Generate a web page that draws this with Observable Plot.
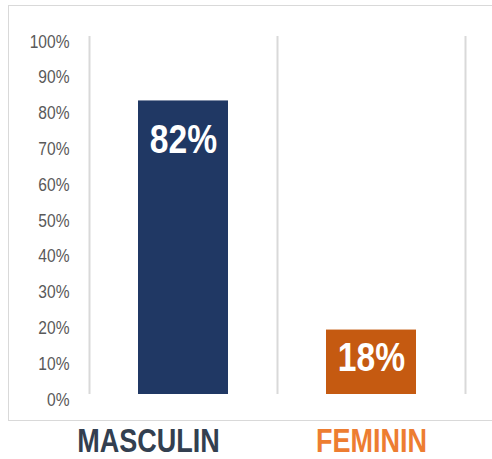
<!DOCTYPE html>
<html>
<head>
<meta charset="utf-8">
<script src="https://cdn.jsdelivr.net/npm/d3@7"></script>
<script src="https://cdn.jsdelivr.net/npm/@observablehq/plot@0.6"></script>
<style>
  html, body { margin: 0; padding: 0; background: #fff; }
  #wrap { position: relative; width: 492px; height: 459px; overflow: hidden; }
  #border { position: absolute; left: 8px; top: 5px; width: 500px; height: 416px; border: 1.5px solid #d9d9d9; box-sizing: border-box; }
  #chart { position: absolute; left: 0; top: 0; }
</style>
</head>
<body>
<div id="wrap"><div id="border"></div><div id="chart"></div></div>
<script>
const categories = ["MASCULIN", "FEMININ"];
const values = [0.82, 0.18];
const valueLabels = ["82%", "18%"];
const yTicks = [0, 0.1, 0.2, 0.3, 0.4, 0.5, 0.6, 0.7, 0.8, 0.9, 1.0];
const barColors = ["#203864", "#c55a11"];
const labelColors = ["#333f50", "#ed7d31"];

const data = categories.map((c, i) => ({cat: c, value: values[i], text: valueLabels[i], bar: barColors[i], label: labelColors[i]}));

const FONT = "'Liberation Sans', Arial, sans-serif";
const step = 188;

const chart = Plot.plot({
  width: 492,
  height: 459,
  marginTop: 36,
  marginBottom: 65,
  marginLeft: 89,
  marginRight: 27,
  style: {fontFamily: FONT, background: "transparent", overflow: "visible"},
  x: {domain: categories, paddingInner: 0.52, paddingOuter: 0.26, axis: null},
  y: {domain: [0, 1]},
  color: {type: "identity"},
  marks: [
    Plot.ruleX(categories, {x: d => d, dx: -step / 2, y1: 0, y2: 1, stroke: "#d9d9d9", strokeWidth: 2}),
    Plot.ruleX(categories.slice(-1), {x: d => d, dx: step / 2, y1: 0, y2: 1, stroke: "#d9d9d9", strokeWidth: 2}),
    Plot.axisY({ticks: yTicks, tickFormat: d3.format(".0%"), tickSize: 0, tickPadding: 20, fontSize: 19, fill: "#595959", dy: 5, label: null}),
    Plot.barY(data, {x: "cat", y: "value", fill: "bar"}),
    Plot.text(data.filter((d, i) => i === 0), {x: "cat", y: "value", text: "text", fill: "white", fontSize: 41, fontWeight: "bold", lineAnchor: "top", dy: 23}),
    Plot.text(data.filter((d, i) => i === 1), {x: "cat", y: "value", text: "text", fill: "white", fontSize: 41, fontWeight: "bold", lineAnchor: "top", dy: 12}),
    Plot.text(data.filter((d, i) => i === 0), {x: "cat", frameAnchor: "bottom", text: "cat", fill: "label", fontSize: 33, fontWeight: "bold", lineAnchor: "middle", dy: 47, dx: -35}),
    Plot.text(data.filter((d, i) => i === 1), {x: "cat", frameAnchor: "bottom", text: "cat", fill: "label", fontSize: 33, fontWeight: "bold", lineAnchor: "middle", dy: 47})
  ]
});
// emulate a narrow typeface: compress each text horizontally around its anchor point
chart.querySelectorAll("text").forEach(t => {
  const tr = t.getAttribute("transform") || "";
  t.setAttribute("transform", (tr + " scale(0.82,1)").trim());
});
document.getElementById("chart").appendChild(chart);
</script>
</body>
</html>
